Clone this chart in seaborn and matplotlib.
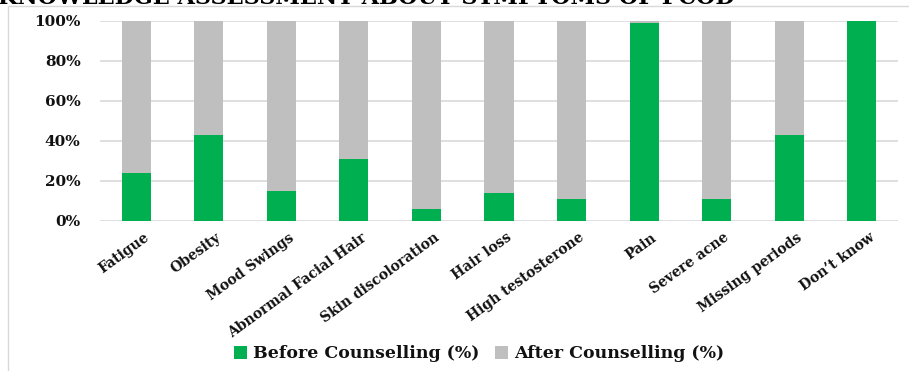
import matplotlib
matplotlib.use("Agg")
import matplotlib.pyplot as plt
from matplotlib.patches import Patch, Rectangle
from matplotlib.transforms import ScaledTranslation
import seaborn as sns
import pandas as pd

categories = ["Fatigue", "Obesity", "Mood Swings", "Abnormal Facial Hair",
              "Skin discoloration", "Hair loss", "High testosterone", "Pain",
              "Severe acne", "Missing periods", "Don\u2019t know"]
before_counselling = [24, 43, 15, 31, 6, 14, 11, 99, 11, 43, 100]
after_counselling = [76, 57, 85, 69, 94, 86, 89, 1, 89, 57, 0]
y_ticks = [0, 20, 40, 60, 80, 100]
title_text = "KNOWLEDGE ASSESSMENT ABOUT SYMPTOMS OF PCOD"

GREEN = "#00B050"
GREY = "#BFBFBF"
GRID = "#D9D9D9"

sns.set_theme(style="white")
plt.rcParams["font.family"] = ["DejaVu Serif", "Liberation Serif"]
plt.rcParams["font.weight"] = "bold"

df = pd.DataFrame({
    "symptom": categories,
    "before": before_counselling,
    "after": after_counselling,
})
df["total"] = df["before"] + df["after"]

W, H = 909, 371
fig = plt.figure(figsize=(W / 100, H / 100), dpi=100)
ax = fig.add_axes([100 / W, 1 - 220.7 / H, 798 / W, 200 / H])

# stacked bars: grey total underneath, green "before" share on top
sns.barplot(data=df, x="symptom", y="total", color=GREY, saturation=1,
            width=0.4, ax=ax, zorder=2, linewidth=0)
sns.barplot(data=df, x="symptom", y="before", color=GREEN, saturation=1,
            width=0.4, ax=ax, zorder=3, linewidth=0)

ax.set_ylim(0, 100)
ax.set_xlim(-0.5, len(categories) - 0.5)
ax.set_yticks(y_ticks)
ax.set_yticklabels([f"{v}%" for v in y_ticks], fontsize=11, fontweight="bold",
                   color="#111111")
ax.yaxis.grid(True, color=GRID, linewidth=1.2, zorder=0)
ax.set_axisbelow(True)
ax.tick_params(axis="both", length=0)
ax.tick_params(axis="y", pad=14)
ax.set_xlabel("")
ax.set_ylabel("")
ax.set_xticks(range(len(categories)))
ax.set_xticklabels(categories, rotation=36, ha="right", rotation_mode="anchor",
                   fontsize=10, fontweight="bold", color="#111111")
ax.tick_params(axis="x", pad=7)
shift = ScaledTranslation(7 / 100, 0, fig.dpi_scale_trans)
for lab in ax.get_xticklabels():
    lab.set_transform(lab.get_transform() + shift)
for s in ax.spines.values():
    s.set_visible(False)

# chart area border
fig.patches.append(Rectangle((8 / W, -0.1), 1.2, 1.1 - 6 / H,
                             transform=fig.transFigure, fill=False,
                             edgecolor=GRID, linewidth=1.0))

# title, running off the top edge
fig.text(735 / W, 1 - 3.5 / H, title_text, ha="right", va="baseline",
         fontsize=16, fontweight="bold", color="black")

handles = [Patch(facecolor=GREEN, edgecolor="none", label="Before Counselling (%)"),
           Patch(facecolor=GREY, edgecolor="none", label="After Counselling (%)")]
fig.legend(handles=handles, loc="center", bbox_to_anchor=(479 / W, 1 - 354 / H),
           ncol=2, frameon=False, handlelength=0.75,
           handleheight=0.75, handletextpad=0.35, columnspacing=0.9,
           prop={"weight": "bold", "size": 12.5}, labelcolor="#111111")

fig.savefig("out.png", dpi=100)
